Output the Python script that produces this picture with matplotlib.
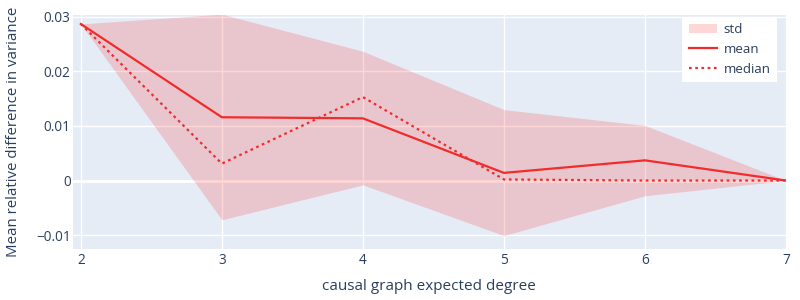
import numpy as np
import matplotlib.pyplot as plt

# causal graph expected degree
degree = [2, 3, 4, 5, 6, 7]
mean = [0.0287, 0.0116, 0.0114, 0.0014, 0.0037, 0.0]
median = [0.0287, 0.0031, 0.0153, 0.0002, 0.0, 0.0]
std_upper = [0.0287, 0.0305, 0.0237, 0.0130, 0.0101, 0.0]
std_lower = [0.0287, -0.0072, -0.0008, -0.0101, -0.0028, 0.0]

ytick_vals = [-0.01, 0, 0.01, 0.02, 0.03]
ytick_labels = ['\u22120.01', '0', '0.01', '0.02', '0.03']

plt.rcParams['font.family'] = ['Open Sans', 'DejaVu Sans']
txt = '#2a3f5f'
red = '#f22b2b'

fig = plt.figure(figsize=(8, 3), dpi=100)
ax = fig.add_axes([0.091, 0.171, 0.8915, 0.78])
ax.set_facecolor('#e5ecf6')

ax.fill_between(degree, std_lower, std_upper, color=(1, 0, 0), alpha=0.16,
                linewidth=0, label='std', zorder=3)
ax.plot(degree, mean, color=red, lw=1.6, label='mean', zorder=4)
ax.plot(degree, median, color=red, lw=1.6, ls=(0, (1.2, 1.6)), label='median', zorder=4)

ax.set_xlim(1.943, 7)
ax.set_ylim(-0.0125, 0.0304)
ax.set_xticks(degree)
ax.set_yticks(ytick_vals)
ax.set_yticklabels(ytick_labels)
ax.grid(True, color='white', lw=1, zorder=1)
ax.axhline(0, color='white', lw=2, zorder=1)
ax.set_axisbelow(True)
for s in ax.spines.values():
    s.set_visible(False)
ax.tick_params(length=0, colors=txt, labelsize=9.8)
ax.tick_params(axis='x', pad=3)
ax.tick_params(axis='y', pad=1.5)

ax.set_xlabel('causal graph expected degree', color=txt, fontsize=11, labelpad=8)
ax.set_ylabel('Mean relative difference in variance', color=txt, fontsize=10.8, labelpad=11)

leg = ax.legend(loc='upper right', bbox_to_anchor=(0.9905, 1.0), frameon=True,
                fancybox=False, framealpha=1, edgecolor='white', fontsize=9.6,
                handlelength=2.1, handletextpad=0.5, borderpad=0.5, labelspacing=0.5,
                borderaxespad=0.15)
for t in leg.get_texts():
    t.set_color(txt)
leg.get_frame().set_linewidth(0)

fig.savefig('out.png', dpi=100)
